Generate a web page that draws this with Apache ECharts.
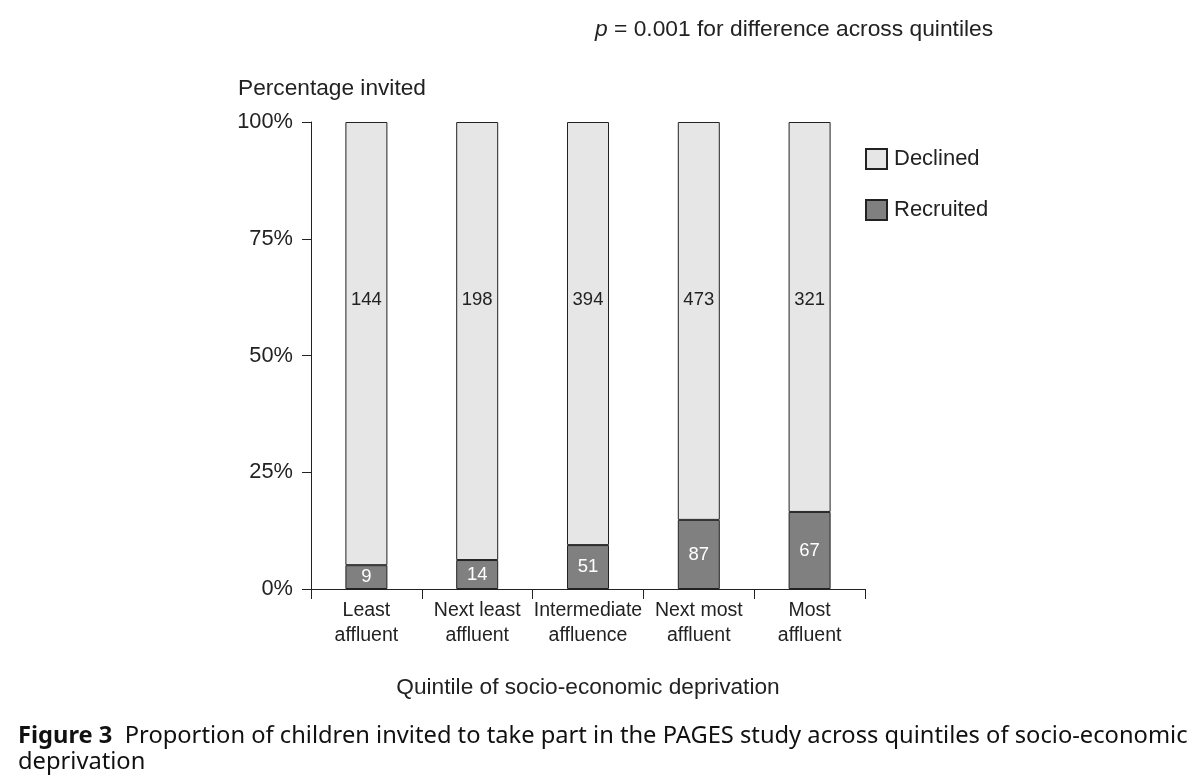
<!DOCTYPE html>
<html>
<head>
<meta charset="utf-8">
<script src="https://cdn.jsdelivr.net/npm/echarts@6/dist/echarts.min.js"></script>
<style>
html,body{margin:0;padding:0;background:#fff;}
#chart{width:1204px;height:782px;}
</style>
</head>
<body>
<div id="chart"></div>
<script>
const categories = ['Least\naffluent', 'Next least\naffluent', 'Intermediate\naffluence', 'Next most\naffluent', 'Most\naffluent'];
const recruitedPct = [5.1, 6.2, 9.4, 14.8, 16.5];
const declinedPct = [94.9, 93.8, 90.6, 85.2, 83.5];
const recruitedN = [9, 14, 51, 87, 67];
const declinedN = [144, 198, 394, 473, 321];
const yTicks = [0, 25, 50, 75, 100];

const FONT = '"Liberation Sans", Arial, sans-serif';
const TXT = '#222';
const chart = echarts.init(document.getElementById('chart'));
chart.setOption({
  backgroundColor: '#fff',
  animation: false,
  textStyle: { fontFamily: FONT, color: TXT },
  grid: { left: 311, right: 339, top: 122, bottom: 193 },
  legend: {
    orient: 'vertical', left: 860, top: 143,
    itemWidth: 21, itemHeight: 20, itemGap: 29,
    icon: 'rect',
    data: ['Declined', 'Recruited'],
    textStyle: { fontFamily: FONT, fontSize: 22, color: TXT, padding: [0, 0, 0, 2] }
  },
  xAxis: {
    type: 'category',
    data: categories,
    axisLine: { lineStyle: { color: TXT, width: 1 } },
    axisTick: { show: true, length: 10, lineStyle: { color: TXT } },
    axisLabel: { fontFamily: FONT, fontSize: 19.5, lineHeight: 25, color: TXT, margin: 9, interval: 0 },
    name: 'Quintile of socio-economic deprivation',
    nameLocation: 'middle',
    nameGap: 87,
    nameTextStyle: { fontFamily: FONT, fontSize: 22.7, color: TXT }
  },
  yAxis: {
    type: 'value',
    min: yTicks[0], max: yTicks[yTicks.length - 1], interval: 25,
    axisLine: { show: true, lineStyle: { color: TXT, width: 1 } },
    axisTick: { show: true, length: 9, lineStyle: { color: TXT } },
    splitLine: { show: false },
    axisLabel: { fontFamily: FONT, fontSize: 21.8, color: TXT, margin: 18, formatter: '{value}%' }
  },
  series: [
    {
      name: 'Recruited', type: 'bar', stack: 'all', barWidth: 42,
      data: recruitedPct,
      itemStyle: { color: '#808080', borderColor: '#222', borderWidth: 1 },
      label: {
        show: true, position: 'inside', offset: [0, 0], color: '#fff', fontSize: 18.5, fontFamily: FONT,
        formatter: p => recruitedN[p.dataIndex]
      }
    },
    {
      name: 'Declined', type: 'bar', stack: 'all', barWidth: 42,
      data: declinedPct,
      itemStyle: { color: '#e6e6e6', borderColor: '#222', borderWidth: 1 },
      label: {
        show: true, position: ['50%', 178], align: 'center', verticalAlign: 'middle',
        color: TXT, fontSize: 18.5, fontFamily: FONT,
        formatter: p => declinedN[p.dataIndex]
      }
    }
  ],
  graphic: [
    { type: 'text', left: 238, top: 77, style: { text: 'Percentage invited', font: '22.7px ' + FONT, fill: TXT } },
    { type: 'text', left: 595, top: 18, style: {
        text: '{i|p} = 0.001 for difference across quintiles',
        font: '22.8px ' + FONT, fill: TXT,
        rich: { i: { fontStyle: 'italic', fontSize: 22.8, fontFamily: FONT, fill: TXT } }
      } },
    { type: 'text', left: 18, top: 724, style: {
        text: '{b|Figure 3}  Proportion of children invited to take part in the PAGES study across quintiles of socio-economic',
        font: '23.7px "Noto Sans", sans-serif', fill: '#111',
        rich: { b: { fontWeight: 'bold', fontSize: 23.7, fontFamily: 'Noto Sans', fill: '#111' } }
      } },
    { type: 'text', left: 18, top: 750, style: { text: 'deprivation', font: '23.7px "Noto Sans", sans-serif', fill: '#111' } }
  ]
});
</script>
</body>
</html>
